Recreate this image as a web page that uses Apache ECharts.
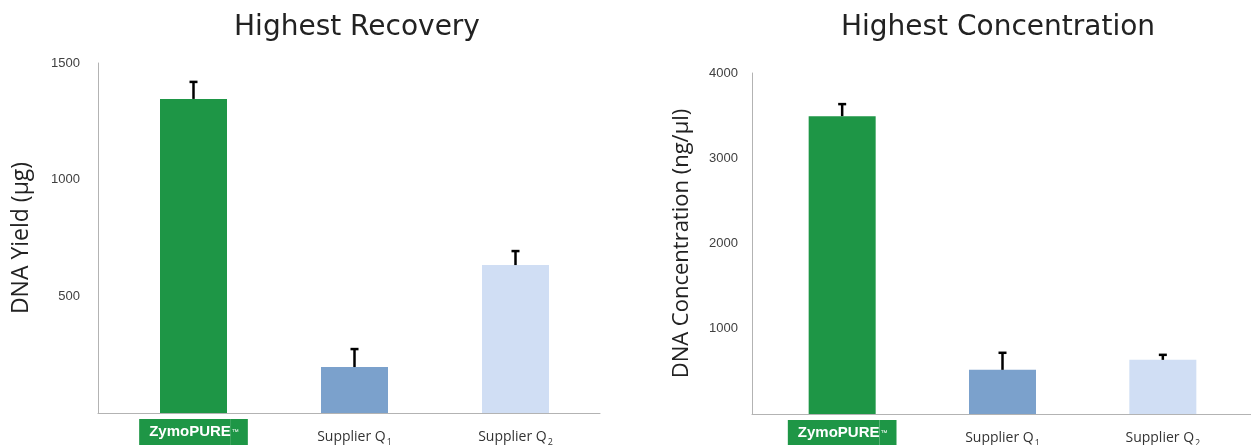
<!DOCTYPE html>
<html><head><meta charset="utf-8">
<script src="https://cdn.jsdelivr.net/npm/echarts@6/dist/echarts.min.js"></script>
<style>html,body{margin:0;padding:0;background:#fff}#c{width:1251px;height:445px}</style>
</head><body><div id="c"></div>
<script>
// ---- data ----
const categories = ['ZymoPURE', 'Supplier Q1', 'Supplier Q2'];
const barColors = ['#1e9646', '#7ba1cc', '#d0def4'];
const yieldValues = [1346, 197, 634];
const yieldErrors = [73, 77, 60];
const concValues = [3494, 518, 635];
const concErrors = [141, 200, 59];
const yieldTicks = [0, 500, 1000, 1500];
const concTicks = [0, 1000, 2000, 3000, 4000];
const titles = ['Highest Recovery', 'Highest Concentration'];
const yNames = ['DNA Yield (µg)', 'DNA Concentration (ng/µl)'];

const FONT = '"Open Sans", sans-serif';
const TITLEFONT = '"DejaVu Sans", sans-serif';
const TICKFONT = '"Liberation Sans", Arial, sans-serif';
const chart = echarts.init(document.getElementById('c'), null, {renderer: 'canvas'});

function catFormatter(v) {
  if (v === 'ZymoPURE') return '{b|ZymoPURE}{tm|™}';
  const base = v.slice(0, -1), sub = v.slice(-1);
  return '{t|' + base + '}{s|' + sub + '}';
}
const rich = {
  b: {color: '#fff', fontWeight: 'bold', fontSize: 15, fontFamily: TICKFONT, backgroundColor: '#1e9646',
      height: 26, padding: [0, 0, 0, 10]},
  tm: {color: '#fff', fontSize: 7, fontFamily: TICKFONT, backgroundColor: '#1e9646', height: 26,
       verticalAlign: 'top', padding: [0, 9, 0, 1], lineHeight: 16},
  t: {color: '#333', fontSize: 14, fontFamily: FONT, height: 26, padding: [0, 0, 0, 0]},
  s: {color: '#333', fontSize: 9, fontFamily: FONT, height: 26, padding: [10, 0, 0, 1]}
};

function errSeries(xi, yi, vals, errs) {
  return {
    type: 'custom', xAxisIndex: xi, yAxisIndex: yi, silent: true, z: 5,
    data: vals.map((v, i) => [i, v, errs[i]]),
    renderItem: function (params, api) {
      const i = api.value(0), v = api.value(1), e = api.value(2);
      const top = api.coord([i, v + e]);
      const bot = api.coord([i, v]);
      return {type: 'group', children: [
        {type: 'line', shape: {x1: top[0], y1: top[1], x2: bot[0], y2: bot[1]}, style: {stroke: '#000', lineWidth: 2.5}},
        {type: 'line', shape: {x1: top[0] - 4, y1: top[1], x2: top[0] + 4, y2: top[1]}, style: {stroke: '#000', lineWidth: 2.5}}
      ]};
    }
  };
}
function frameX(gi) {
  return {gridIndex: gi, type: 'value', min: 0, max: 1, axisLine: {show: true, onZero: false, lineStyle: {color: '#b3b3b3', width: 1}},
    axisTick: {show: false}, axisLabel: {show: false}, splitLine: {show: false}};
}
function frameY(gi, ticks, name, nameGap, labelMargin, nameSize) {
  return {gridIndex: gi, type: 'value', min: ticks[0], max: ticks[ticks.length - 1], interval: ticks[1] - ticks[0],
    axisLine: {show: true, lineStyle: {color: '#b3b3b3', width: 1}}, axisTick: {show: false}, splitLine: {show: false},
    axisLabel: {color: '#404040', fontSize: 13, fontFamily: TICKFONT, margin: labelMargin, showMinLabel: false,
      formatter: v => String(v)},
    name: name, nameLocation: 'middle', nameGap: nameGap, nameRotate: 90,
    nameTextStyle: {color: '#222', fontSize: nameSize, fontFamily: FONT}};
}
function barX(gi) {
  return {gridIndex: gi, type: 'category', data: categories, axisLine: {show: false}, axisTick: {show: false},
    axisLabel: {margin: 6, formatter: catFormatter, rich: rich}};
}
function barY(gi, ticks) {
  return {gridIndex: gi, type: 'value', min: ticks[0], max: ticks[ticks.length - 1], show: false};
}
function bars(xi, yi, vals) {
  return {type: 'bar', xAxisIndex: xi, yAxisIndex: yi, barWidth: 67, silent: true,
    data: vals.map((v, i) => ({value: v, itemStyle: {color: barColors[i]}}))};
}
const titleStyle = {fontSize: 28, fontWeight: 'normal', color: '#222', fontFamily: TITLEFONT};

chart.setOption({
  animation: false,
  title: [
    {text: titles[0], left: 352, top: 9, textAlign: 'center', textStyle: titleStyle},
    {text: titles[1], left: 993, top: 9, textAlign: 'center', textStyle: titleStyle}
  ],
  grid: [
    {left: 98, top: 63, width: 502, height: 350, outerBoundsMode: 'none'},
    {left: 113, top: 63, width: 483, height: 350, outerBoundsMode: 'none'},
    {left: 752, top: 73, width: 499, height: 341, outerBoundsMode: 'none'},
    {left: 762, top: 73, width: 481, height: 341, outerBoundsMode: 'none'}
  ],
  xAxis: [frameX(0), barX(1), frameX(2), barX(3)],
  yAxis: [frameY(0, yieldTicks, yNames[0], 65, 18, 23), barY(1, yieldTicks), frameY(2, concTicks, yNames[1], 59, 14, 22), barY(3, concTicks)],
  series: [
    bars(1, 1, yieldValues), errSeries(1, 1, yieldValues, yieldErrors),
    bars(3, 3, concValues), errSeries(3, 3, concValues, concErrors)
  ]
});
</script></body></html>
